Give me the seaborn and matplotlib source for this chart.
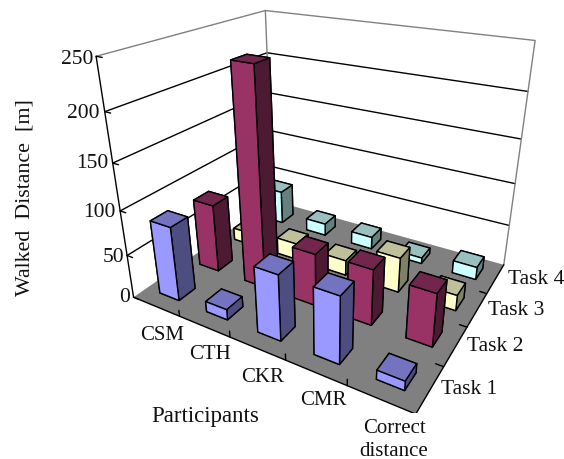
import numpy as np
import matplotlib
matplotlib.use("Agg")
import matplotlib.pyplot as plt
from mpl_toolkits.mplot3d.art3d import Poly3DCollection
import seaborn as sns

participants = ["CSM", "CTH", "CKR", "CMR", "Correct\ndistance"]
tasks = ["Task 1", "Task 2", "Task 3", "Task 4"]
task_1 = [85, 12, 73, 73, 10]
task_2 = [80, 239, 60, 63, 59]
task_3 = [15, 20, 18, 41, 18]
task_4 = [42, 15, 15, 7, 15]
series = [task_1, task_2, task_3, task_4]
z_ticks = [0, 50, 100, 150, 200, 250]

# front, top and side shades for each task
front_colors = ["#9999FF", "#993366", "#FFFFCC", "#CCFFFF"]
top_colors = ["#7373BF", "#73264D", "#BFBF99", "#99BFBF"]
side_colors = ["#4D4D80", "#4D1A33", "#808066", "#668080"]

sns.set_theme(style="white", font="Liberation Serif")
WIDTH, HEIGHT = 564, 460
fig = plt.figure(figsize=(WIDTH / 100, HEIGHT / 100), dpi=100)

side = 464.5
left, top = 87.75, -50.98
ax = fig.add_axes([left / WIDTH, 1 - (top + side) / HEIGHT, side / WIDTH, side / HEIGHT],
                  projection="3d", computed_zorder=False)
ax.set_xlim(0, 5)
ax.set_ylim(0, 4)
ax.set_zlim(0, 250)
ax.view_init(elev=24.7065, azim=-59.8285)
ax.set_proj_type("persp", focal_length=0.2496)
ax.set_box_aspect((1.2434, 1.0026, 1))
ax.set_axis_off()

nx, ny, zmax = len(participants), len(tasks), z_ticks[-1]

# walls with their gridlines
for z in z_ticks[1:-1]:
    ax.plot([0, 0, nx], [0, ny, ny], [z, z, z], color="black", lw=1.0, zorder=1)
ax.plot([0, 0, nx, nx], [0, ny, ny, ny], [zmax, zmax, zmax, 0], color="#808080", lw=1.0, zorder=1)
ax.plot([0, 0], [ny, ny], [0, zmax], color="#808080", lw=1.0, zorder=1)

# floor
floor = Poly3DCollection([[(0, 0, 0), (nx, 0, 0), (nx, ny, 0), (0, ny, 0)]],
                         facecolor="#808080", edgecolor="none", zorder=2)
ax.add_collection3d(floor)
ax.plot([0, nx, nx], [0, 0, ny], [0, 0, 0], color="black", lw=1.0, zorder=3)
ax.plot([0, 0], [0, 0], [0, zmax], color="black", lw=1.0, zorder=3)

# tick marks along the three axes
for z in z_ticks:
    ax.plot([0, 0.12], [0, 0], [z, z], color="black", lw=1.0, zorder=3)
for i in range(1, nx):
    ax.plot([i, i], [0, 0], [0, 7], color="black", lw=1.0, zorder=3)
for j in range(1, ny):
    ax.plot([nx, nx - 0.12], [j, j], [0, 0], color="black", lw=1.0, zorder=3)

# bars painted from the back row to the front
bar_x, bar_y = 0.42, 0.39
order = 10
for j in range(ny - 1, -1, -1):
    for i in range(nx):
        # bar3d face order: bottom, top, -y, +y, -x, +x
        faces = [side_colors[j], top_colors[j], front_colors[j],
                 side_colors[j], side_colors[j], side_colors[j]]
        ax.bar3d(i + 0.5 - bar_x / 2, j + 0.5 - bar_y / 2, 0, bar_x, bar_y, series[j][i],
                 color=faces, shade=False, edgecolor="black", linewidth=1.0, zorder=order)
        order += 1


def label(x, y, text, ha="center", size=15.0, **kw):
    fig.text(x / WIDTH, 1 - y / HEIGHT, text, ha=ha, va="center", fontsize=size,
             color="#111111", **kw)


for value, (x, y) in zip(z_ticks, [(130, 298), (124, 257), (116, 213), (108, 164), (100, 113), (93, 59)]):
    label(x, y, str(value), ha="right", size=15.5)
for name, (x, y) in zip(participants, [(162, 335), (210, 355), (263, 377), (323, 401), (394, 440)]):
    label(x, y, name, linespacing=1.3)
for name, (x, y) in zip(tasks, [(469, 390), (495, 347), (516, 311), (536, 280)]):
    label(x, y, name, size=15.5)
label(205, 417, "Participants", size=16.5)
label(25, 198, "Walked  Distance  [m]", size=15.8, rotation=90)

fig.savefig("out.png", dpi=100)
